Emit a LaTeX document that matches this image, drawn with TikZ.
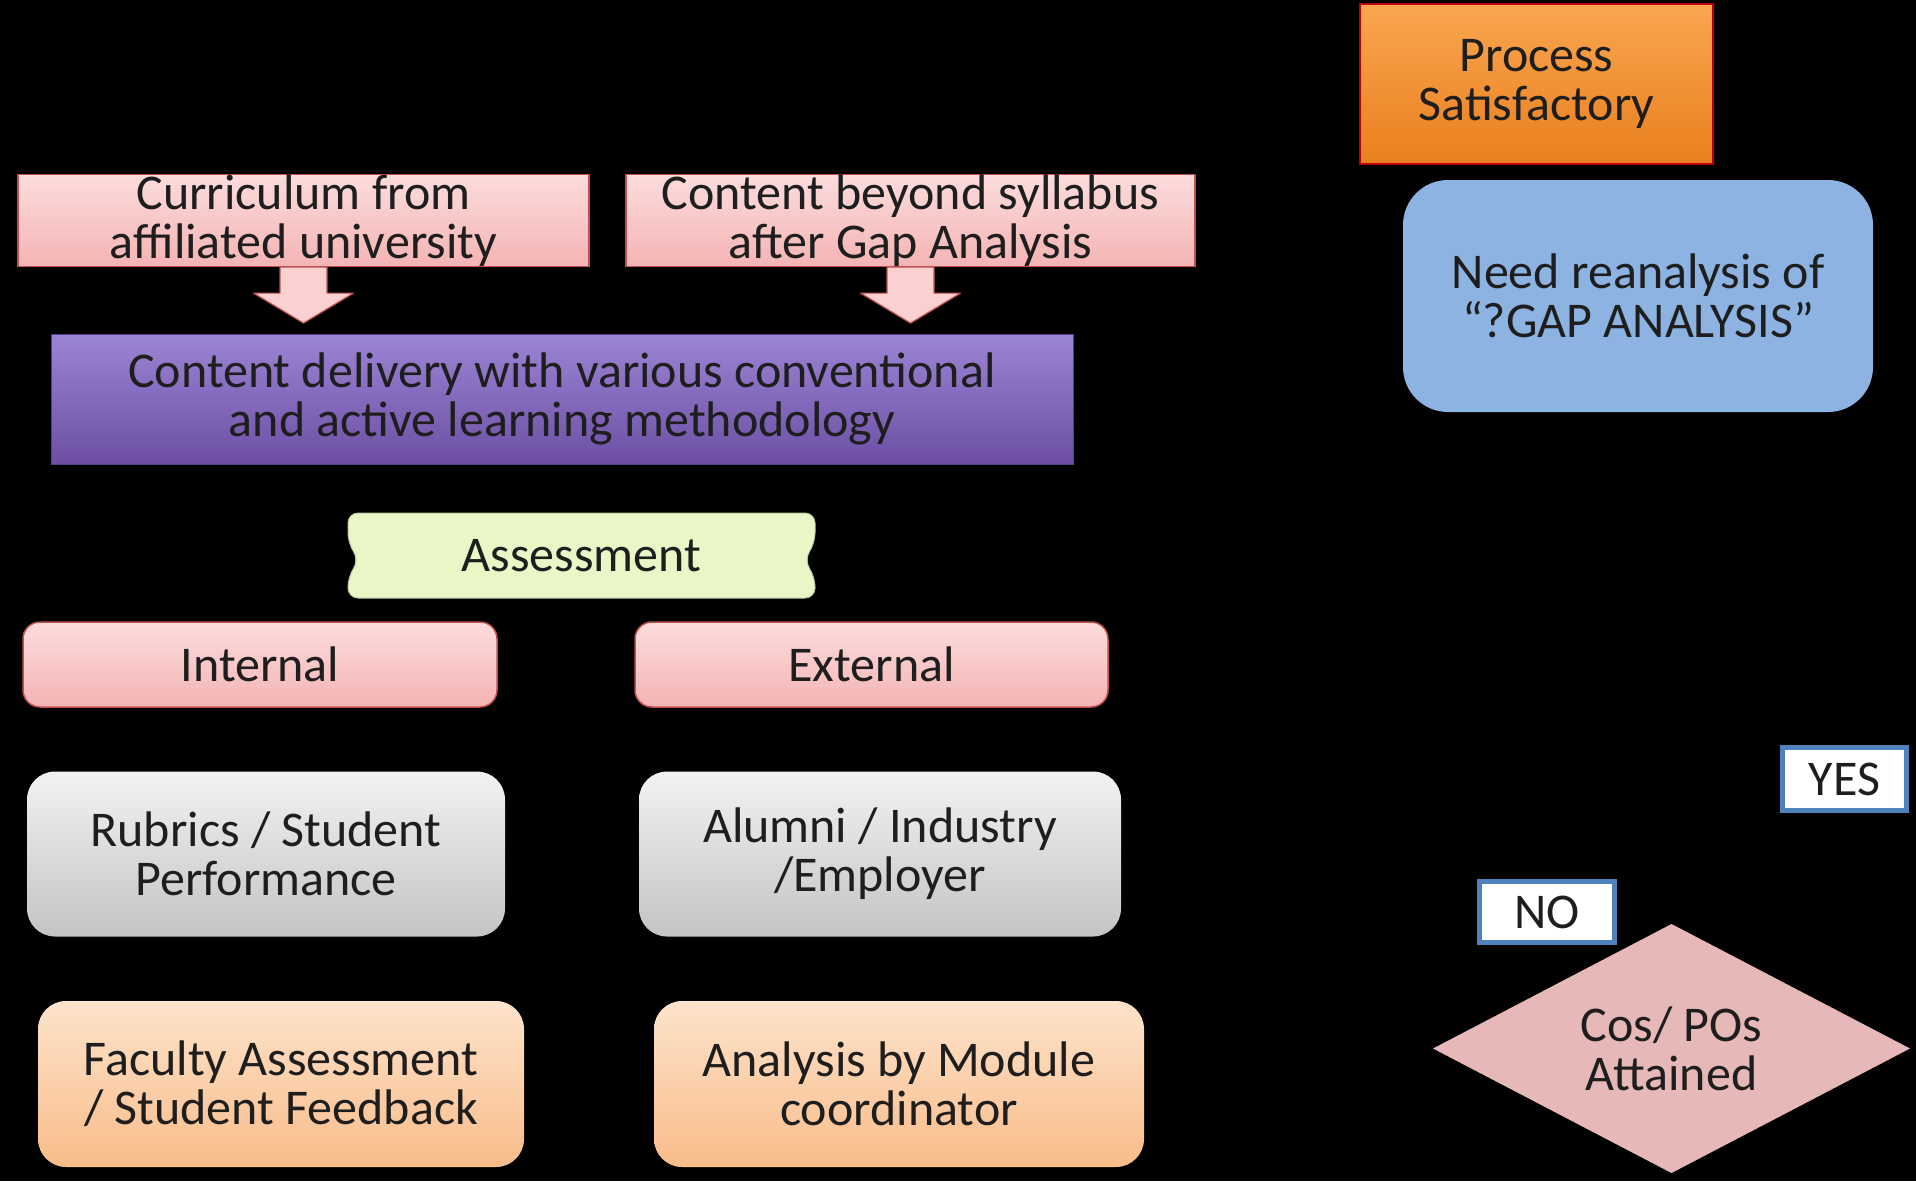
\documentclass[tikz,border=0pt]{standalone}
\usepackage{fontspec}
\setmainfont{Carlito}
\usetikzlibrary{calc,shapes.geometric}
\definecolor{txt}{HTML}{1E1E1E}
\definecolor{pinktop}{HTML}{FCDCDC}
\definecolor{pinkbot}{HTML}{F4B4B4}
\definecolor{pinkedge}{HTML}{C0504D}
\definecolor{purtop}{HTML}{9C84D4}
\definecolor{purbot}{HTML}{6C4FA4}
\definecolor{greenfill}{HTML}{EAF6C6}
\definecolor{graytop}{HTML}{F2F2F2}
\definecolor{graybot}{HTML}{C4C4C4}
\definecolor{peachtop}{HTML}{FDE3CB}
\definecolor{peachbot}{HTML}{F9BC8A}
\definecolor{orgtop}{HTML}{FAA650}
\definecolor{orgbot}{HTML}{E97F1E}
\definecolor{orgedge}{HTML}{C00000}
\definecolor{bluefill}{HTML}{8DB3E2}
\definecolor{lblue}{HTML}{4F81BD}
\definecolor{diafill}{HTML}{E6B9B8}
\begin{document}
\begin{tikzpicture}[x=1pt,y=-1pt,
  base/.style={align=center, text=txt, font=\fontsize{50}{49}\selectfont, inner sep=0pt, rectangle},
  pinksq/.style={base, draw=pinkedge, line width=1.5pt, top color=pinktop, bottom color=pinkbot},
  pinkrd/.style={pinksq, rounded corners=17pt},
  purbox/.style={base, draw=purbot!80!black, line width=1pt, top color=purtop, bottom color=purbot},
  graybox/.style={base, rounded corners=28pt, top color=graytop, bottom color=graybot},
  peachbox/.style={base, rounded corners=28pt, top color=peachtop, bottom color=peachbot},
  orgbox/.style={base, draw=orgedge, line width=1.5pt, top color=orgtop, bottom color=orgbot},
  bluebox/.style={base, rounded corners=45pt, fill=bluefill},
  labbox/.style={base, fill=white, draw=lblue, line width=5pt},
  blockarrow/.style={fill=pinktop!70!pinkbot, draw=pinkedge, line width=1.2pt, line join=round},
  assessshape/.style={fill=greenfill, draw=greenfill!80!black, line width=1pt, rounded corners=10pt}
]
\fill[black] (0,0) rectangle (1916,1181);
\useasboundingbox (0,0) rectangle (1916,1181);

% top pink boxes
\node[pinksq, minimum width=571pt, minimum height=91pt] (cur) at (303.5,220.5) {Curriculum from\\affiliated university};
\node[pinksq, minimum width=569pt, minimum height=91pt] (cbs) at (910.5,220.5) {Content beyond syllabus\\after Gap Analysis};

% content delivery
\node[purbox, minimum width=1022pt, minimum height=130pt] (cd) at (562,399) {Content delivery with various conventional\\and active learning methodology};

% block arrows
\foreach \s in {cur,cbs}{
  \draw[blockarrow] ($(\s.south)+(-23.5,0)$) -- ($(\s.south)+(23.5,0)$) -- ($(\s.south)+(23.5,26)$)
    -- ($(\s.south)+(50,26)$) -- ($(\s.south)+(0,56)$) -- ($(\s.south)+(-50,26)$)
    -- ($(\s.south)+(-23.5,26)$) -- cycle;
}

% assessment
\path[assessshape] (348,513) -- (815,513) -- (815,543) -- (804,560) -- (815,577) -- (815,598)
  -- (348,598) -- (348,577) -- (359,560) -- (348,543) -- cycle;
\node[base] (as) at (581.5,555.5) {Assessment};

% internal / external
\node[pinkrd, minimum width=474pt, minimum height=85pt] (int) at (260,664.5) {Internal};
\node[pinkrd, minimum width=473pt, minimum height=85pt] (ext) at (871.5,664.5) {External};

% gray
\node[graybox, minimum width=478pt, minimum height=165pt] (rub) at (266,854) {Rubrics / Student\\Performance};
\node[graybox, minimum width=482pt, minimum height=165pt] (alu) at (880,854) {Alumni / Industry\\/Employer};

% peach
\node[peachbox, minimum width=486pt, minimum height=166pt] (fac) at (281,1084) {Faculty Assessment\\/ Student Feedback};
\node[peachbox, minimum width=490pt, minimum height=166pt] (ana) at (899,1084) {Analysis by Module\\coordinator};

% right column
\node[orgbox, minimum width=353pt, minimum height=160pt] (ps) at (1536.5,84) {Process\\Satisfactory};
\node[bluebox, minimum width=470pt, minimum height=232pt] (need) at (1638,296) {Need reanalysis of\\“?GAP ANALYSIS”};
\node[labbox, minimum width=124pt, minimum height=63pt] (yes) at (1844.5,779) {YES};
\node[labbox, minimum width=135pt, minimum height=61pt] (no) at (1547,912) {NO};

% decision diamond
\fill[diafill] (1433,1048.5) -- (1671.5,924) -- (1910,1048.5) -- (1671.5,1173) -- cycle;
\node[base] (cos) at (1671.5,1048.5) {Cos/ POs\\Attained};
\end{tikzpicture}
\end{document}
